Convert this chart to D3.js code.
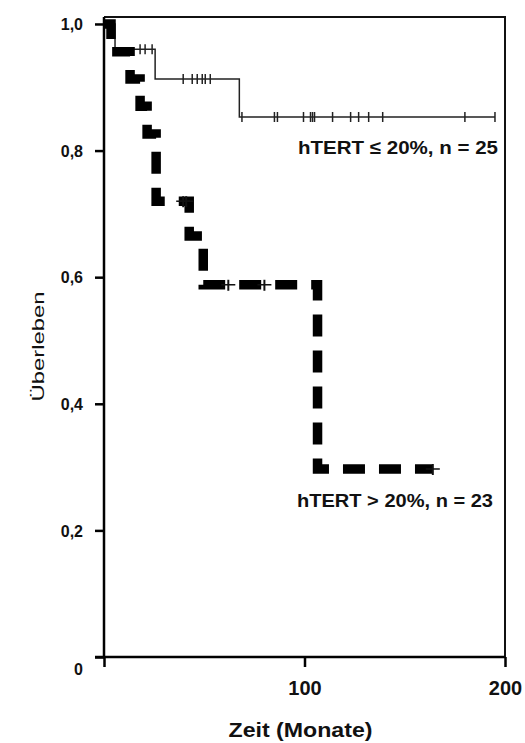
<!DOCTYPE html>
<html>
<head>
<meta charset="utf-8">
<script src="https://cdn.jsdelivr.net/npm/d3@7"></script>
<style>
  body { margin: 0; background: #fff; }
  text { font-family: "Liberation Sans", Arial, sans-serif; fill: #111; }
</style>
</head>
<body>
<div id="km-graph"></div>
<script>
// Kaplan-Meier steps: [month, survival]
const lowTimes = [0, 5.5, 25.5, 67.5];
const lowSurv = [1, 0.96, 0.913, 0.853];
const lowEnd = 195;
const lowCensorTimes = [18, 20.5, 24, 39.5, 44, 46.5, 49, 50.5, 53, 68.8, 85, 86.5, 99.5, 103, 104, 105, 114, 123, 127, 132, 139, 180, 195];

const highTimes = [0, 3.5, 13, 18, 21.5, 26, 42.5, 49.5, 106.5];
const highSurv = [1, 0.956, 0.913, 0.87, 0.826, 0.72, 0.665, 0.588, 0.297];
const highEnd = 164;
const highCensorTimes = [39.5, 41, 62, 80, 164];

const xTicks = [0, 100, 200];
const yTicks = [0, 0.2, 0.4, 0.6, 0.8, 1.0];

const margin = { top: 17, right: 20, bottom: 86, left: 104 };
const width = 525 - margin.left - margin.right;
const height = 743 - margin.top - margin.bottom;

const svg = d3.select("#km-graph")
    .append("svg")
    .attr("width", width + margin.left + margin.right)
    .attr("height", height + margin.top + margin.bottom)
    .append("g")
    .attr("transform", `translate(${margin.left}, ${margin.top})`);

const xScale = d3.scaleLinear()
    .domain([0, 200])
    .range([0, width]);

const yScale = d3.scaleLinear()
    .domain([0, 1.011])
    .range([height, 0]);

// survival at time t for a step curve
function survAt(times, surv, t) {
    let s = surv[0];
    times.forEach((tt, i) => { if (tt <= t) s = surv[i]; });
    return s;
}

const stepLine = d3.line()
    .x(d => xScale(d[0]))
    .y(d => yScale(d[1]))
    .curve(d3.curveStepAfter);

const lowPts = lowTimes.map((t, i) => [t, lowSurv[i]]).concat([[lowEnd, lowSurv[lowSurv.length - 1]]]);
const highPts = highTimes.map((t, i) => [t, highSurv[i]]).concat([[highEnd, highSurv[highSurv.length - 1]]]);

// frame (top and right)
svg.append("path")
    .attr("d", `M0,0 H${width} V${height}`)
    .attr("fill", "none")
    .attr("stroke", "#111")
    .attr("stroke-width", 2);

// hTERT <= 20% thin solid
svg.append("path")
    .datum(lowPts)
    .attr("d", stepLine)
    .attr("fill", "none")
    .attr("stroke", "#222")
    .attr("stroke-width", 1.5);

svg.selectAll(".low-censor")
    .data(lowCensorTimes)
    .enter()
    .append("line")
    .attr("class", "low-censor")
    .attr("x1", d => xScale(d))
    .attr("x2", d => xScale(d))
    .attr("y1", d => yScale(survAt(lowTimes, lowSurv, d)) - 5)
    .attr("y2", d => yScale(survAt(lowTimes, lowSurv, d)) + 5)
    .attr("stroke", "#222")
    .attr("stroke-width", 1.5);

// hTERT > 20% thick dashed
svg.append("path")
    .datum(highPts)
    .attr("d", stepLine)
    .attr("fill", "none")
    .attr("stroke", "#000")
    .attr("stroke-width", 9.5)
    .attr("stroke-dasharray", "22,14");

const plus = svg.selectAll(".high-censor")
    .data(highCensorTimes)
    .enter()
    .append("g")
    .attr("class", "high-censor")
    .attr("transform", d => `translate(${xScale(d)}, ${yScale(survAt(highTimes, highSurv, d))})`);
plus.append("line")
    .attr("x1", -7).attr("x2", 7).attr("y1", 0).attr("y2", 0)
    .attr("stroke", "#111").attr("stroke-width", 1.5);
plus.append("line")
    .attr("x1", 0).attr("x2", 0).attr("y1", -5).attr("y2", 6)
    .attr("stroke", "#111").attr("stroke-width", 2);

// axes
const xAxis = svg.append("g")
    .attr("transform", `translate(0, ${height})`)
    .call(d3.axisBottom(xScale).tickValues(xTicks).tickSize(10).tickPadding(14).tickFormat(d => d === 0 ? "" : d));
xAxis.select(".domain").attr("d", `M-9,0 H${width}`).attr("stroke-width", 2.5);
xAxis.selectAll(".tick line").attr("stroke-width", 2.5);
xAxis.selectAll("text")
    .style("font-size", "20px")
    .style("font-weight", "bold");

const yAxis = svg.append("g")
    .call(d3.axisLeft(yScale).tickValues(yTicks).tickSize(9).tickPadding(12)
        .tickFormat(d => d === 0 ? "0" : d3.format(".1f")(d).replace(".", ",")));
yAxis.select(".domain").attr("d", `M0,0 V${height}`).attr("stroke-width", 2.5);
yAxis.selectAll(".tick line").attr("stroke-width", 2.5);
yAxis.selectAll("text")
    .style("font-size", "16px")
    .style("font-weight", "bold")
    .attr("dy", d => d === 0 ? "1.1em" : "0.35em");

// curve labels
svg.append("text")
    .attr("x", 194)
    .attr("y", 137)
    .attr("textLength", 200)
    .attr("lengthAdjust", "spacingAndGlyphs")
    .style("font-size", "19px")
    .style("font-weight", "bold")
    .text("hTERT \u2264 20%,  n = 25");

svg.append("text")
    .attr("x", 193)
    .attr("y", 490)
    .attr("textLength", 196)
    .attr("lengthAdjust", "spacingAndGlyphs")
    .style("font-size", "19px")
    .style("font-weight", "bold")
    .text("hTERT > 20%, n = 23");

// axis titles
svg.append("text")
    .attr("x", width / 2 - 4)
    .attr("y", height + 80)
    .attr("text-anchor", "middle")
    .attr("textLength", 144)
    .attr("lengthAdjust", "spacingAndGlyphs")
    .style("font-size", "20px")
    .style("font-weight", "bold")
    .text("Zeit (Monate)");

svg.append("text")
    .attr("transform", "rotate(-90)")
    .attr("x", -(yScale(0.5) + 6))
    .attr("y", -60)
    .attr("text-anchor", "middle")
    .attr("textLength", 110)
    .attr("lengthAdjust", "spacingAndGlyphs")
    .style("font-size", "17px")
    .text("Überleben");
</script>
</body>
</html>
